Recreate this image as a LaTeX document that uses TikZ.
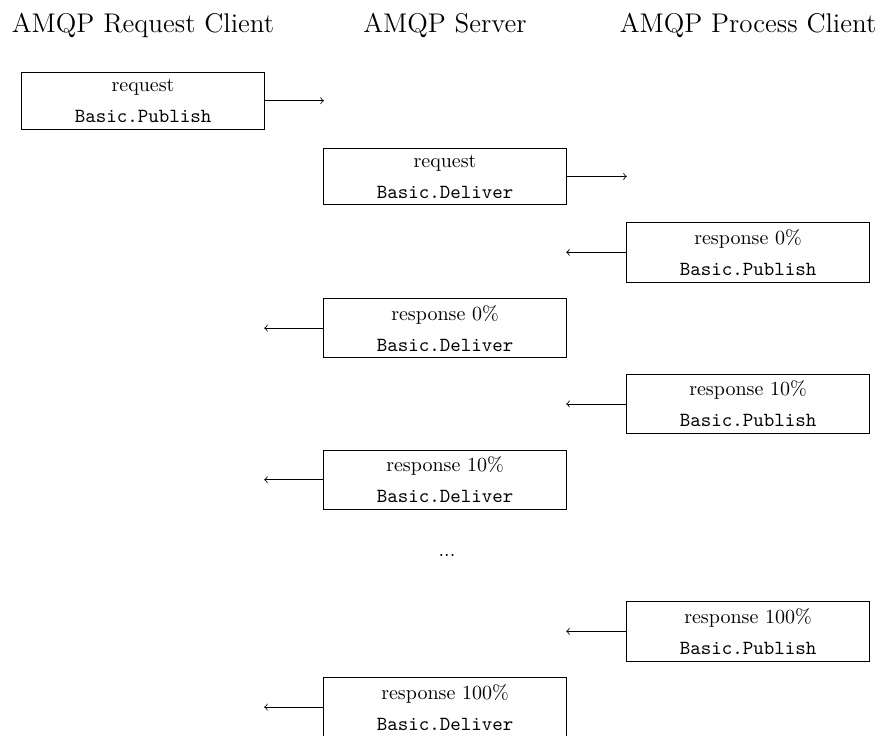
\documentclass[tikz,border=0pt]{standalone}
\begin{document}
\begin{tikzpicture}[x=0.5pt,y=-0.5pt,
  msg/.style={draw, line width=0.4pt, minimum width=121.15pt, align=center, inner sep=3.33pt},
  hdr/.style={font=\fontsize{13.5}{16}\selectfont},
  flow/.style={->, line width=0.4pt}]
\useasboundingbox (0,0) rectangle (881,735);
% headers
\node[hdr] (hL) at (143,25) {AMQP Request Client};
\node[hdr] (hM) at (445,25) {AMQP Server};
\node[hdr] (hR) at (748,25) {AMQP Process Client};
% messages
\node[msg] (m1) at (143,100.7) {request\\[3.5pt]\texttt{Basic.Publish}};
\node[msg] (m2) at (445,176.5) {request\\[3.5pt]\texttt{Basic.Deliver}};
\node[msg] (m3) at (748,252.3) {response 0\%\\[3.5pt]\texttt{Basic.Publish}};
\node[msg] (m4) at (445,328.1) {response 0\%\\[3.5pt]\texttt{Basic.Deliver}};
\node[msg] (m5) at (748,403.9) {response 10\%\\[3.5pt]\texttt{Basic.Publish}};
\node[msg] (m6) at (445,479.7) {response 10\%\\[3.5pt]\texttt{Basic.Deliver}};
\node (dots) at (447,555.5) {...};
\node[msg] (m7) at (748,631.3) {response 100\%\\[3.5pt]\texttt{Basic.Publish}};
\node[msg] (m8) at (445,707.1) {response 100\%\\[3.5pt]\texttt{Basic.Deliver}};
% free arrow ends
\coordinate (e1) at (323.85,100.7);
\coordinate (e2) at (626.85,176.5);
\coordinate (e3) at (566.15,252.3);
\coordinate (e4) at (264.15,328.1);
\coordinate (e5) at (566.15,403.9);
\coordinate (e6) at (264.15,479.7);
\coordinate (e7) at (566.15,631.3);
\coordinate (e8) at (264.15,707.1);
% arrows
\draw[flow] (m1.east) -- (e1);
\draw[flow] (m2.east) -- (e2);
\draw[flow] (m3.west) -- (e3);
\draw[flow] (m4.west) -- (e4);
\draw[flow] (m5.west) -- (e5);
\draw[flow] (m6.west) -- (e6);
\draw[flow] (m7.west) -- (e7);
\draw[flow] (m8.west) -- (e8);
\end{tikzpicture}
\end{document}
